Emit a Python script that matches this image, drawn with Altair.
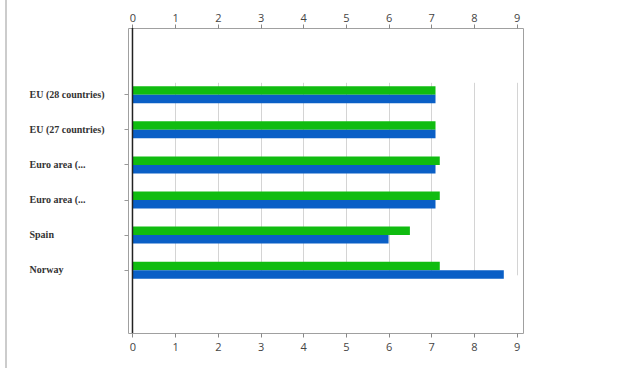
import altair as alt
import pandas as pd

keys = ["EU28", "EU27", "EA_a", "EA_b", "ES", "NO"]
labels = ["EU (28 countries)", "EU (27 countries)", "Euro area (...", "Euro area (...", "Spain", "Norway"]
series_names = ["Series 1", "Series 2"]
green_vals = [7.1, 7.1, 7.2, 7.2, 6.5, 7.2]
blue_vals = [7.1, 7.1, 7.1, 7.1, 6.0, 8.7]
x_ticks = [0, 1, 2, 3, 4, 5, 6, 7, 8, 9]

GREEN = "#10BC10"
BLUE = "#0A5FC6"

rows = []
for k, g, b in zip(keys, green_vals, blue_vals):
    rows.append({"key": k, "series": series_names[0], "value": g})
    rows.append({"key": k, "series": series_names[1], "value": b})
df = pd.DataFrame(rows)

keys_js = "[" + ",".join("'" + k + "'" for k in keys) + "]"
labels_js = "[" + ",".join("'" + l + "'" for l in labels) + "]"
label_expr = f"{labels_js}[indexof({keys_js}, datum.value)]"

xscale = alt.Scale(domain=[-0.105, 9.15], nice=False, zero=False)

bars = alt.Chart(df).mark_bar().encode(
    x=alt.X("value:Q", scale=xscale, axis=alt.Axis(
        orient="bottom", values=x_ticks, grid=True, gridColor="#d4d4d4",
        domain=False, tickSize=4, tickColor="#888", labelFont="Open Sans",
        labelFontSize=11, labelColor="#444", labelPadding=4, title=None)),
    x2=alt.datum(0),
    y=alt.Y("key:N", sort=keys,
            scale=alt.Scale(paddingInner=0.516, paddingOuter=0, range=[58.2, 250.7]),
            axis=alt.Axis(labelExpr=label_expr, labelAlign="left", labelPadding=95,
                          tickSize=4, tickColor="#999", domain=False,
                          labelFont="Liberation Serif", labelFontWeight="bold",
                          labelFontSize=10, labelColor="#333", title=None)),
    yOffset=alt.YOffset("series:N", sort=series_names,
                        scale=alt.Scale(paddingInner=0, paddingOuter=0)),
    color=alt.Color("series:N", scale=alt.Scale(domain=series_names, range=[GREEN, BLUE]),
                    legend=None),
)

zero = alt.Chart(pd.DataFrame({"v": [0]})).mark_rule(color="#222", strokeWidth=1.5).encode(
    x=alt.X("v:Q", scale=xscale, axis=alt.Axis(
        orient="top", values=x_ticks, grid=False, domain=False, tickSize=4,
        tickColor="#888", labelFont="Open Sans", labelFontSize=11,
        labelColor="#444", labelPadding=1, title=None)),
)

border = alt.Chart(pd.DataFrame({"d": [0]})).mark_rule(color="#999", strokeWidth=1).encode(
    x=alt.value(-122), y=alt.value(-28), y2=alt.value(340)
)

chart = alt.layer(bars, zero, border).resolve_axis(x="independent").properties(
    width=395, height=305,
    padding={"left": 128, "top": 28, "right": 97, "bottom": 35},
    autosize=alt.AutoSizeParams(type="none"),
    background="white",
).configure_view(stroke="#a0a0a0")

chart.save("out.html", embed_options={"renderer": "svg", "actions": False})
